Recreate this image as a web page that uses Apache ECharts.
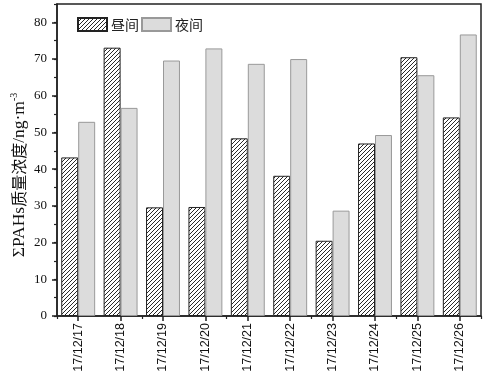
<!DOCTYPE html>
<html><head><meta charset="utf-8">
<script src="https://cdn.jsdelivr.net/npm/echarts@6/dist/echarts.min.js"></script>
<style>html,body{margin:0;padding:0;background:#fff}#c{width:486px;height:375px}</style>
</head><body><div id="c"></div>
<script>
var categories = ['17/12/17','17/12/18','17/12/19','17/12/20','17/12/21','17/12/22','17/12/23','17/12/24','17/12/25','17/12/26'];
var dayValues = [43.2, 73.1, 29.6, 29.7, 48.4, 38.2, 20.5, 47.0, 70.5, 54.1];
var nightValues = [52.9, 56.7, 69.6, 72.9, 68.7, 70.0, 28.7, 49.3, 65.6, 76.7];
var yTicks = [0, 10, 20, 30, 40, 50, 60, 70, 80];
var seriesNames = ['昼间', '夜间'];

function hatch() {
  var c = document.createElement('canvas');
  c.width = 4; c.height = 4;
  var g = c.getContext('2d');
  g.fillStyle = '#fff'; g.fillRect(0, 0, 4, 4);
  g.strokeStyle = '#111'; g.lineWidth = 0.9;
  g.beginPath();
  g.moveTo(-1, 5); g.lineTo(5, -1);
  g.moveTo(-1, 1); g.lineTo(1, -1);
  g.moveTo(3, 5); g.lineTo(5, 3);
  g.stroke();
  return c;
}
var chart = echarts.init(document.getElementById('c'), null, {renderer: 'canvas'});
var serif = '"Liberation Serif","Times New Roman","Noto Sans CJK SC",serif';
var yMin = 0, yMax = 85;
chart.setOption({
  animation: false,
  grid: {left: 57, right: 5, top: 4, bottom: 59, show: true, borderColor: '#222', borderWidth: 1.5, backgroundColor: 'transparent'},
  legend: {
    left: 72, top: 12, itemWidth: 29, itemHeight: 13, itemGap: 2, icon: 'rect',
    data: seriesNames,
    textStyle: {fontFamily: '"Noto Sans CJK SC",sans-serif', fontSize: 14, color: '#222', padding: [0, 0, 0, -1]}
  },
  xAxis: [{
    type: 'category', data: categories, position: 'bottom',
    axisLine: {show: true, lineStyle: {color: '#222', width: 1.5}},
    axisTick: {show: true, alignWithLabel: true, inside: false, length: 5, lineStyle: {color: '#222', width: 1.5}},
    axisLabel: {rotate: 90, fontFamily: '"Liberation Sans",Arial,sans-serif', fontSize: 12.5, color: '#111', margin: 7}
  }, {
    type: 'category', data: categories, position: 'bottom', gridIndex: 0,
    axisLine: {show: false},
    axisTick: {show: true, alignWithLabel: false, length: 3, lineStyle: {color: '#222', width: 1.2}},
    axisLabel: {show: false}
  }],
  yAxis: [{
    type: 'value', min: yMin, max: yMax,
    axisLine: {show: true, lineStyle: {color: '#222', width: 1.5}},
    axisTick: {show: true, length: 5, customValues: yTicks, lineStyle: {color: '#222', width: 1.5}},
    axisLabel: {customValues: yTicks, fontFamily: serif, fontSize: 13, color: '#111', margin: 10},
    splitLine: {show: false}
  }, {
    type: 'value', min: yMin, max: yMax, interval: 5, position: 'left',
    axisLine: {show: false},
    axisTick: {show: true, length: 3, lineStyle: {color: '#222', width: 1.2}},
    axisLabel: {show: false},
    splitLine: {show: false}
  }],
  graphic: [{
    type: 'text', x: 19, y: 175, rotation: Math.PI / 2,
    style: {
      text: '{a|ΣPAHs}{b|质量浓度}{a|/ng·m}{s|-3}',
      align: 'center', verticalAlign: 'middle',
      rich: {
        a: {fontFamily: serif, fontSize: 17.5, fill: '#111'},
        b: {fontFamily: '"Noto Sans CJK SC",sans-serif', fontSize: 16, fill: '#111'},
        s: {fontFamily: serif, fontSize: 10, fill: '#111', verticalAlign: 'top', padding: [0, 0, 9, 0]}
      }
    }
  }],
  series: [{
    name: seriesNames[0], type: 'bar', data: dayValues, barWidth: '40%', barGap: '0%',
    itemStyle: {color: {image: hatch(), repeat: 'repeat'}, borderColor: '#222', borderWidth: 1}
  }, {
    name: seriesNames[1], type: 'bar', data: nightValues, barWidth: '40%', barGap: '0%',
    itemStyle: {color: '#dcdcdc', borderColor: '#999', borderWidth: 1}
  }]
});
</script></body></html>
